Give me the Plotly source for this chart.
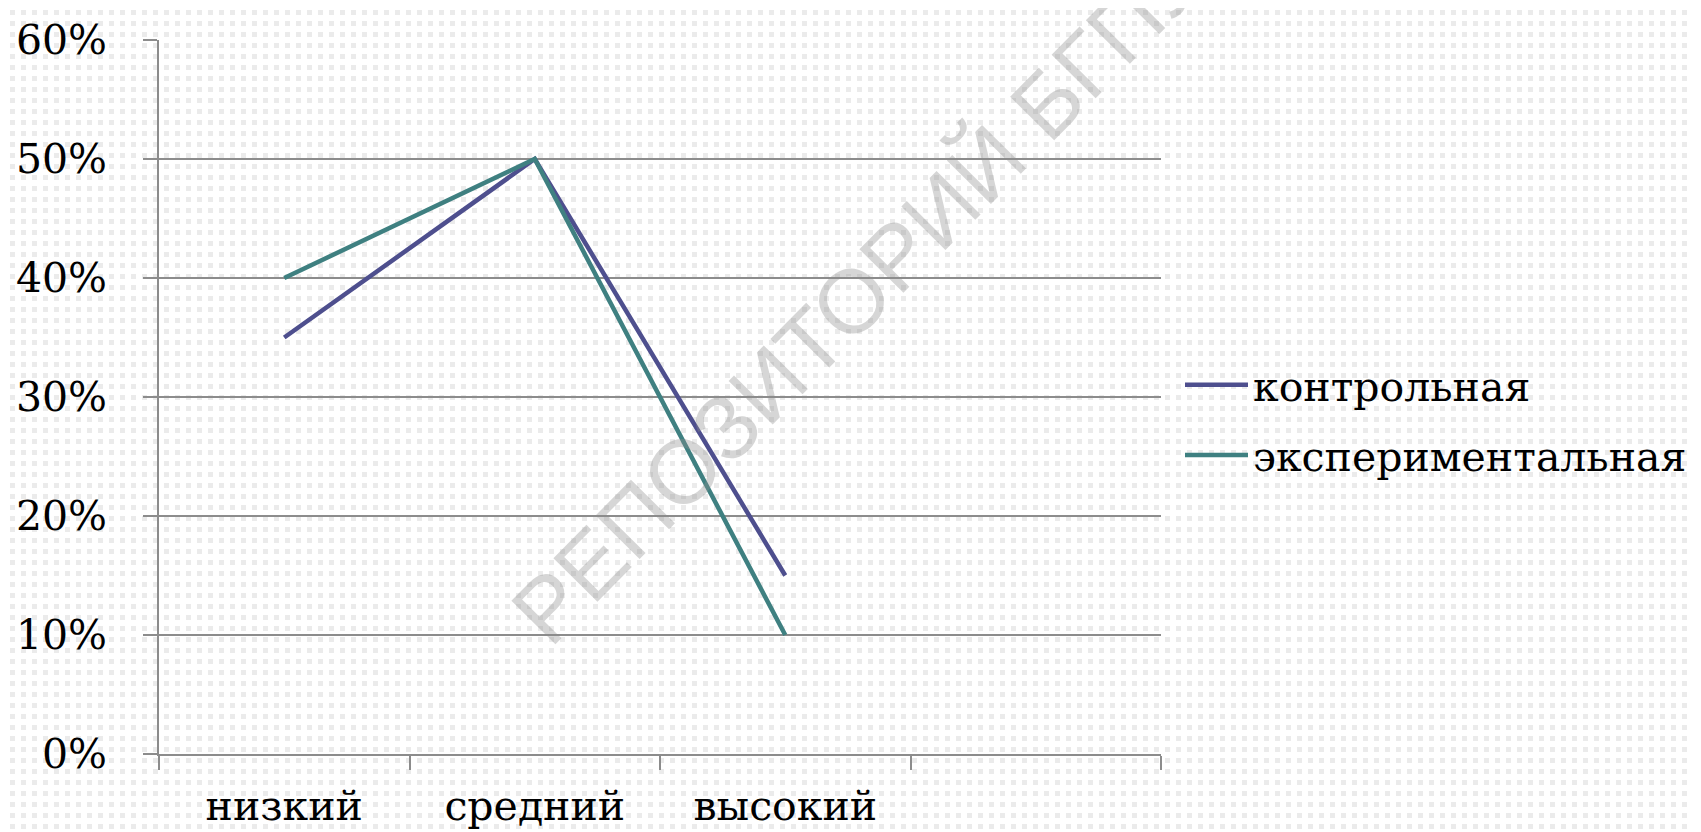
import base64
import plotly.graph_objects as go

# ---- data ----
categories = ["низкий", "средний", "высокий"]
extra_slot = [" "]  # empty fourth category slot on the axis
control = [35, 50, 15]
experimental = [40, 50, 10]
series_names = ["контрольная", "экспериментальная"]
y_ticks = [0, 10, 20, 30, 40, 50, 60]
y_ticktext = [f"{v}%" for v in y_ticks]

W, H = 1701, 832
L, R, T, B = 151, 548, 32, 86
PW, PH = W - L - R, H - T - B

FONT = "DejaVu Serif"
FS = 41
GRID = "#8C8C8C"

# dotted slide background as an SVG pattern
svg = f'''<svg xmlns="http://www.w3.org/2000/svg" width="{W}" height="{H}">
<defs><pattern id="p" x="2" y="2" width="11" height="11" patternUnits="userSpaceOnUse">
<rect x="0" y="0" width="5" height="5" fill="#EBEBEB"/></pattern></defs>
<rect width="{W}" height="{H}" fill="#FFFFFF"/>
<rect width="{W}" height="{H}" fill="url(#p)"/></svg>'''
bg_uri = "data:image/svg+xml;base64," + base64.b64encode(svg.encode()).decode()

fig = go.Figure()
fig.add_trace(go.Scatter(x=categories, y=control, name=series_names[0], mode="lines",
                         line=dict(color="#4E4F8E", width=4.5), legendgroup="a"))
fig.add_trace(go.Scatter(x=categories, y=experimental, name=series_names[1], mode="lines",
                         line=dict(color="#3F8081", width=4.5), legendgroup="b"))

fig.update_layout(
    width=W, height=H,
    margin=dict(l=L, r=R, t=T, b=B, autoexpand=False),
    paper_bgcolor="white", plot_bgcolor="rgba(0,0,0,0)",
    font=dict(family=FONT, size=FS, color="black"),
    showlegend=True,
    legend=dict(x=(1172 - L) / PW, y=(H - B - 412) / PH, xanchor="left", yanchor="middle",
                bgcolor="rgba(0,0,0,0)", font=dict(family=FONT, size=FS),
                traceorder="grouped", tracegroupgap=14, itemwidth=63),
    xaxis=dict(type="category", categoryarray=categories + extra_slot,
               range=[-0.5, 3.5], tickson="boundaries", ticks="outside", ticklen=14,
               tickcolor=GRID, tickwidth=1.5, showgrid=False, showline=True,
               linecolor=GRID, linewidth=1.5, ticklabelstandoff=15,
               tickfont=dict(family=FONT, size=FS)),
    yaxis=dict(range=[0, 60], tickvals=y_ticks, ticktext=y_ticktext, ticks="outside",
               ticklen=14, tickcolor=GRID, tickwidth=1.5, showgrid=True,
               gridcolor=GRID, gridwidth=1.5, showline=True, linecolor=GRID,
               linewidth=1.5, zeroline=False, ticklabelstandoff=28,
               tickfont=dict(family=FONT, size=FS)),
    images=[dict(source=bg_uri, xref="paper", yref="paper",
                 x=-L / PW, y=1 + T / PH, sizex=W / PW, sizey=H / PH,
                 xanchor="left", yanchor="top", sizing="stretch", layer="below")],
    annotations=[dict(text="РЕПОЗИТОРИЙ БГПУ", xref="paper", yref="paper",
                      x=(850 - L) / PW, y=(H - B - 285) / PH, showarrow=False,
                      xanchor="center", yanchor="middle",
                      textangle=-45.3, font=dict(family="Liberation Sans", size=90,
                                                 color="rgba(140,140,140,0.36)"))],
)

fig.write_html("out.html")
